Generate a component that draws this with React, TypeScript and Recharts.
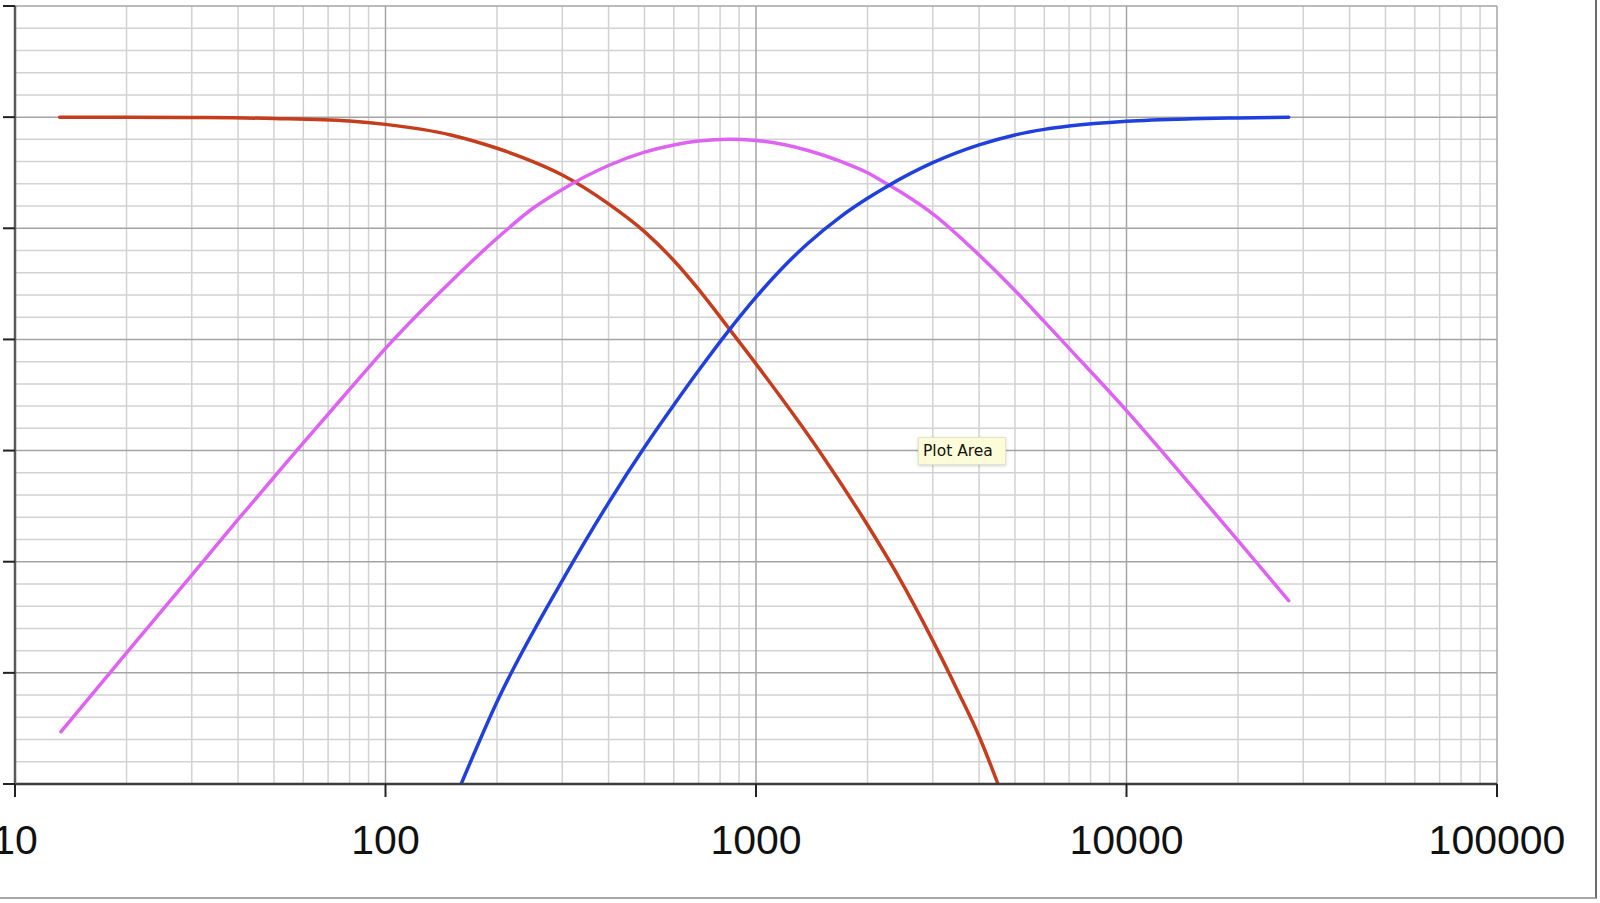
import { LineChart, Line, XAxis, YAxis, CartesianGrid } from 'recharts';

// frequency (Hz) and level (dB)
const lowpassFreq = [13.2, 20, 30, 50, 80, 100, 150, 200, 250, 300, 400, 500, 600, 700, 840, 1000, 1500, 2000, 2420, 3000, 3500, 4000, 4500];
const lowpassDb = [0, 0, -0.03, -0.12, -0.35, -0.65, -1.6, -2.8, -4.0, -5.2, -7.8, -10.3, -12.9, -15.5, -18.9, -22.2, -30.3, -36.7, -41.3, -47.1, -51.6, -55.7, -60];

const highpassFreq = [160, 200, 300, 400, 500, 600, 700, 840, 1000, 1200, 1382, 1700, 2000, 2240, 3000, 4000, 5000, 6000, 7000, 10000, 15000, 20000, 27400];
const highpassDb = [-60, -52.6, -41.7, -34.7, -29.7, -25.9, -22.8, -19.3, -16.2, -13.3, -11.35, -8.9, -7.3, -6.3, -4.1, -2.5, -1.6, -1.1, -0.8, -0.37, -0.15, -0.07, 0];

const bandpassFreq = [13.3, 20, 30, 40, 50, 60, 80, 100, 150, 200, 250, 300, 400, 500, 600, 700, 850, 1000, 1382, 1700, 2000, 2240, 2500, 3000, 4000, 5000, 6000, 7000, 10000, 15000, 20000, 27400];
const bandpassDb = [-55.3, -48.2, -41.2, -36.2, -32.4, -29.3, -24.5, -20.8, -14.8, -10.9, -8.2, -6.5, -4.35, -3.15, -2.5, -2.15, -2.0, -2.1, -3.0, -4.0, -5.0, -5.95, -6.9, -8.7, -12.4, -15.6, -18.4, -20.8, -26.4, -33.2, -38.1, -43.5];

const xTicks = [10, 100, 1000, 10000, 100000];
const yTicks = [-60, -50, -40, -30, -20, -10, 0, 10];
const xMajorGrid = [100, 1000, 10000, 100000];
const xMinorGrid = [
  20, 30, 40, 50, 60, 70, 80, 90,
  200, 300, 400, 500, 600, 700, 800, 900,
  2000, 3000, 4000, 5000, 6000, 7000, 8000, 9000,
  20000, 30000, 40000, 50000, 60000, 70000, 80000, 90000,
];
const yMajorGrid = [-50, -40, -30, -20, -10, 0, 10];
const yMinorGrid = [
  -58, -56, -54, -52, -48, -46, -44, -42, -38, -36, -34, -32,
  -28, -26, -24, -22, -18, -16, -14, -12, -8, -6, -4, -2, 2, 4, 6, 8,
];

const toRows = (freq: number[], db: number[]) => freq.map((f, i) => ({ f, db: db[i] }));

const lowpass = toRows(lowpassFreq, lowpassDb);
const highpass = toRows(highpassFreq, highpassDb);
const bandpass = toRows(bandpassFreq, bandpassDb);

export default function App() {
  return (
    <div
      style={{
        position: 'absolute',
        left: 0,
        top: 0,
        width: 1595,
        height: 897,
        background: '#fff',
        borderRight: '2px solid #6c6c6c',
        borderBottom: '2px solid #a8a8a8',
        overflow: 'hidden',
      }}
    >
      <LineChart width={1595} height={897} margin={{ top: 6, right: 98, bottom: 53, left: 0 }}>
        <CartesianGrid
          stroke="#d2d2d2"
          strokeWidth={1.5}
          verticalValues={xMinorGrid}
          horizontalValues={yMinorGrid}
        />
        <CartesianGrid
          stroke="#a4a4a4"
          strokeWidth={1.5}
          verticalValues={xMajorGrid}
          horizontalValues={yMajorGrid}
        />
        <XAxis
          type="number"
          dataKey="f"
          scale="log"
          domain={[10, 100000]}
          ticks={xTicks}
          interval={0}
          allowDataOverflow
          height={60}
          tickSize={13}
          tickMargin={28}
          axisLine={{ stroke: '#3c3c3c', strokeWidth: 2.5 }}
          tickLine={{ stroke: '#222', strokeWidth: 2 }}
          tick={{ fontSize: 41, fill: '#111', fontFamily: 'Liberation Sans, Arial, sans-serif' }}
        />
        <YAxis
          type="number"
          domain={[-60, 10]}
          ticks={yTicks}
          interval={0}
          allowDataOverflow
          width={15}
          tickSize={12}
          tickFormatter={() => ''}
          axisLine={{ stroke: '#5a5a5a', strokeWidth: 2.5 }}
          tickLine={{ stroke: '#222', strokeWidth: 2 }}
        />
        <Line data={lowpass} dataKey="db" type="monotone" stroke="#c63d1d" strokeWidth={3.5} strokeLinecap="round" dot={false} activeDot={false} isAnimationActive={false} />
        <Line data={bandpass} dataKey="db" type="monotone" stroke="#df63f2" strokeWidth={3.5} strokeLinecap="round" dot={false} activeDot={false} isAnimationActive={false} />
        <Line data={highpass} dataKey="db" type="monotone" stroke="#2040de" strokeWidth={3.5} strokeLinecap="round" dot={false} activeDot={false} isAnimationActive={false} />
      </LineChart>
      <div
        style={{
          position: 'absolute',
          left: 918,
          top: 437,
          width: 88,
          height: 28,
          boxSizing: 'border-box',
          background: '#fdfcd8',
          border: '1px solid #e6e4c4',
          boxShadow: '0 1px 3px rgba(0,0,0,0.18)',
          fontFamily: 'DejaVu Sans, sans-serif',
          fontSize: 15.5,
          lineHeight: '26px',
          color: '#111',
          paddingLeft: 4,
          whiteSpace: 'nowrap',
        }}
      >
        Plot Area
      </div>
    </div>
  );
}
